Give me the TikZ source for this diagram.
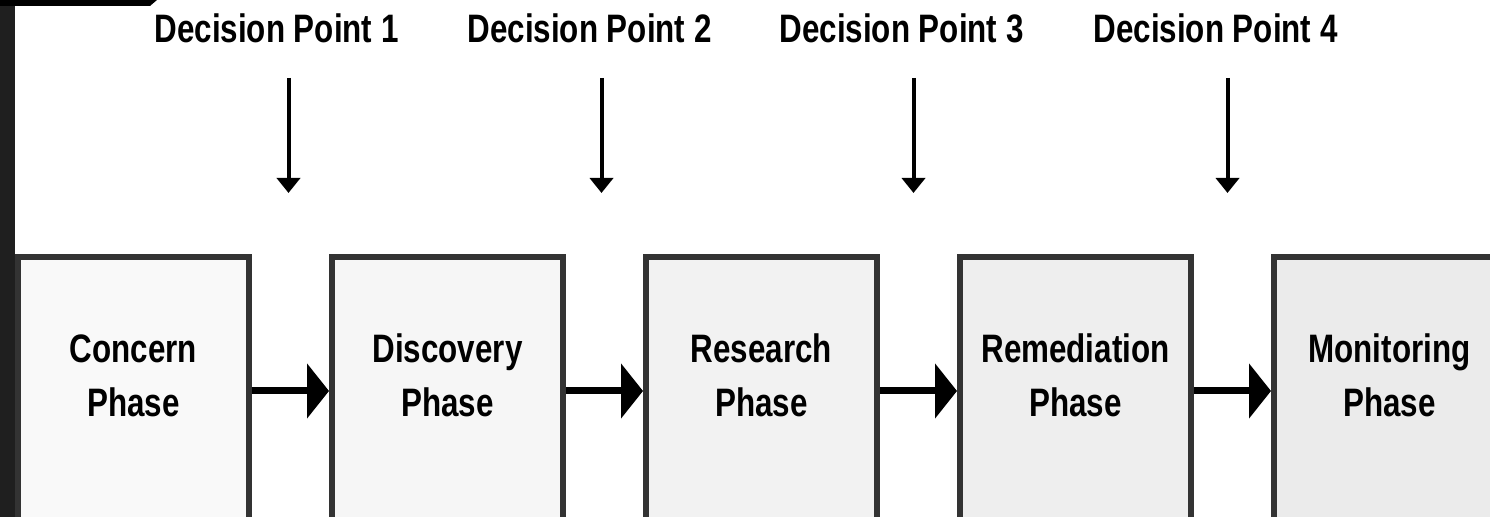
\documentclass[tikz,border=0pt]{standalone}
\usepackage{fontspec}
\setmainfont{Liberation Sans}[FakeStretch=0.79]
\usepackage{xcolor}
\usetikzlibrary{arrows.meta,positioning,calc}

\definecolor{shadeA}{gray}{0.976}
\definecolor{shadeB}{gray}{0.965}
\definecolor{shadeC}{gray}{0.949}
\definecolor{shadeD}{gray}{0.933}
\definecolor{shadeE}{gray}{0.922}
\definecolor{edgegray}{gray}{0.2}
\definecolor{framegray}{gray}{0.12}

\tikzset{
  phase/.style={rectangle, draw=edgegray, line width=0.06cm, minimum width=2.31cm, minimum height=2.68cm,
    align=center, font=\bfseries\fontsize{11.3}{15.6}\selectfont, text height=0.6cm, text depth=0.08cm},
  flow/.style={-{Triangle[length=0.22cm,width=0.54cm]}, line width=0.07cm},
  decision/.style={font=\bfseries\fontsize{11.3}{13}\selectfont, anchor=base, inner sep=0pt},
  dparrow/.style={-{Triangle[length=0.15cm,width=0.23cm]}, line width=0.04cm}
}

\begin{document}
\begin{tikzpicture}[node distance=0.77cm]
  \useasboundingbox (0,0) rectangle (14.9,5.17);
  \clip (0,0) rectangle (14.9,5.17);
  \fill[white] (0,0) rectangle (14.9,5.17);

  % the five phases
  \node (concern) [phase, fill=shadeA] at (1.335,1.26) {Concern\\Phase};
  \node (discovery) [phase, fill=shadeB, right=of concern] {Discovery\\Phase};
  \node (research) [phase, fill=shadeC, right=of discovery] {Research\\Phase};
  \node (remediation) [phase, fill=shadeD, right=of research] {Remediation\\Phase};
  \node (monitoring) [phase, fill=shadeE, right=of remediation] {Monitoring\\Phase};

  % dark frame at the left edge
  \fill[framegray] (0,0) rectangle (0.15,5.17);
  \fill[black] (0,5.17) -- (1.57,5.17) -- (1.50,5.11) -- (0,5.11) -- cycle;

  \draw[flow] (concern) -- (discovery);
  \draw[flow] (discovery) -- (research);
  \draw[flow] (research) -- (remediation);
  \draw[flow] (remediation) -- (monitoring);

  % decision points over the gaps
  \coordinate (g1) at ($(concern.north east)!0.5!(discovery.north west)+(-0.02,0)$);
  \coordinate (g2) at ($(discovery.north east)!0.5!(research.north west)+(-0.03,0)$);
  \coordinate (g3) at ($(research.north east)!0.5!(remediation.north west)+(-0.05,0)$);
  \coordinate (g4) at ($(remediation.north east)!0.5!(monitoring.north west)+(-0.05,0)$);

  \node (dp1) [decision] at ([shift={(-0.12,2.11)}]g1) {Decision Point 1};
  \node (dp2) [decision] at ([shift={(-0.12,2.11)}]g2) {Decision Point 2};
  \node (dp3) [decision] at ([shift={(-0.12,2.11)}]g3) {Decision Point 3};
  \node (dp4) [decision] at ([shift={(-0.12,2.11)}]g4) {Decision Point 4};

  \draw[dparrow] ([yshift=-0.35cm]dp1.base -| g1) -- ([yshift=0.61cm]g1);
  \draw[dparrow] ([yshift=-0.35cm]dp2.base -| g2) -- ([yshift=0.61cm]g2);
  \draw[dparrow] ([yshift=-0.35cm]dp3.base -| g3) -- ([yshift=0.61cm]g3);
  \draw[dparrow] ([yshift=-0.35cm]dp4.base -| g4) -- ([yshift=0.61cm]g4);
\end{tikzpicture}
\end{document}
